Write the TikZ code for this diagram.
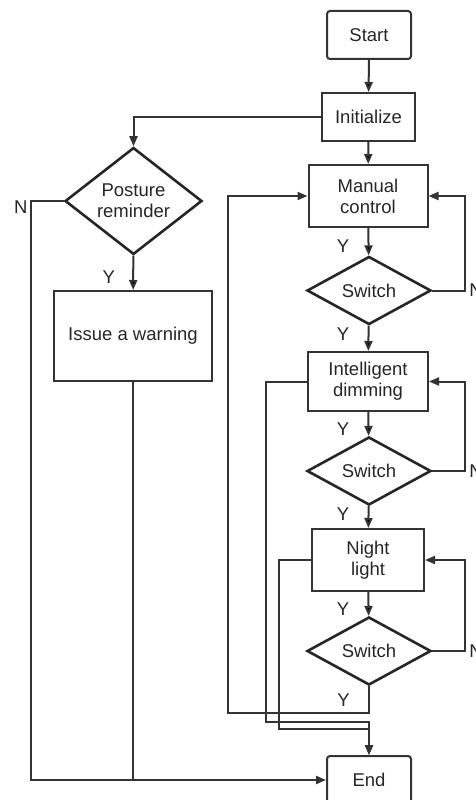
\documentclass[tikz,border=0pt]{standalone}
\usepackage{fontspec}
\setmainfont{Liberation Sans}
\usetikzlibrary{arrows.meta,shapes.geometric}

\begin{document}
\begin{tikzpicture}[x=1pt,y=-1pt,>={Triangle[length=10pt,width=8pt]},align=center,
	every node/.style={font=\fontsize{18.5}{21}\selectfont,text=black!85},
	box/.style={draw=black!80,line width=2pt,inner sep=2pt},
	term/.style={box,rounded corners=3pt,minimum width=84pt,minimum height=48pt},
	decision/.style={diamond,draw=black!85,line width=2.6pt,inner sep=0pt},
	switchbox/.style={decision,minimum width=124pt,minimum height=60pt},
	ylabel/.style={left,xshift=-15pt},
	flow/.style={draw=black!80,line width=2pt}]
			\useasboundingbox (0,0) rectangle (476,800);
			\node[term] (start) at (369,35) {Start};
			\node[box,minimum width=93pt,minimum height=48pt] (init) at (368.5,117) {Initialize};
			\node[box,minimum width=119pt,minimum height=62pt] (manual) at (368,196) {Manual\\control};
			\node[switchbox] (sw1) at (369,290.5) {Switch};
			\node[box,minimum width=120pt,minimum height=59pt] (dim) at (368,381.5) {Intelligent\\dimming};
			\node[switchbox] (sw2) at (369,471) {Switch};
			\node[box,minimum width=112pt,minimum height=62pt] (night) at (368,560) {Night\\light};
			\node[switchbox] (sw3) at (369,651) {Switch};
			\node[term] (end) at (369,780) {End};
			\node[decision,minimum width=137pt,minimum height=105pt] (posture) at (133.5,201) {Posture\\reminder};
			\node[box,minimum width=158pt,minimum height=90pt] (warn) at (133,336) {Issue a warning};
			\coordinate (rx) at (465,0);
			\coordinate (lx1) at (228,713);
			\coordinate (lx2) at (266,722);
			\coordinate (lx3) at (279,729);
			\coordinate (nx) at (31,780);
			\path[flow,->]
			(start) edge (init)
			(init) edge (manual)
			(manual) edge node[ylabel,pos=0.68] {Y} (sw1)
			(sw1) edge node[ylabel,pos=0.35] {Y} (dim)
			(dim) edge node[ylabel,pos=0.72] {Y} (sw2)
			(sw2) edge node[ylabel,pos=0.35] {Y} (night)
			(night) edge node[ylabel,pos=0.72] {Y} (sw3)
			(posture) edge node[ylabel,pos=0.63,xshift=1pt] {Y} (warn);
			\draw[flow,->] (init.west) -| (posture.north);
			\draw[flow,->] (sw1.east) -- (sw1.east -| rx) node[right] {N} |- (manual.east);
			\draw[flow,->] (sw2.east) -- (sw2.east -| rx) node[right] {N} |- (dim.east);
			\draw[flow,->] (sw3.east) -- (sw3.east -| rx) node[right] {N} |- (night.east);
			\draw[flow,->] (sw3.south) -- node[ylabel] {Y} (sw3.south |- lx1) -- (lx1) |- (manual.west);
			\draw[flow,->] (dim.west) -| (lx2) -| (end.north);
			\draw[flow,->] (night.west) -| (lx3) -| (end.north);
			\draw[flow,->] (posture.west) -| (nx) node[pos=0,left,xshift=-32pt,yshift=-6pt] {N} -- (end.west);
			\draw[flow] (warn.south) -- (warn.south |- end.west);
		\end{tikzpicture}
\end{document}
